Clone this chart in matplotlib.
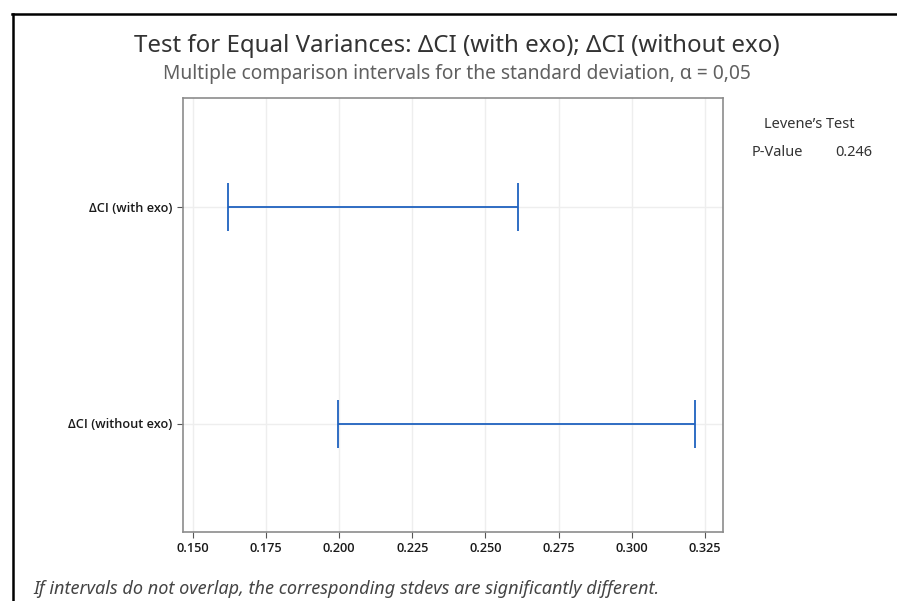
import matplotlib
matplotlib.use("Agg")
import matplotlib.pyplot as plt
from matplotlib.lines import Line2D

categories = ["ΔCI (with exo)", "ΔCI (without exo)"]
lower = [0.162, 0.1995]
upper = [0.261, 0.3215]
xticks = [0.150, 0.175, 0.200, 0.225, 0.250, 0.275, 0.300, 0.325]
p_value = 0.246

plt.rcParams['font.family'] = ['Noto Sans', 'DejaVu Sans']

fig = plt.figure(figsize=(8.97, 6.01), dpi=100)
ax = fig.add_axes([183/897, 69/601, (722.7-183)/897, (532-98)/601])

blue = '#1f62bf'
ypos = [1, 2]
for y, lo, hi in zip(ypos, lower, upper):
    mid = (lo + hi) / 2
    ax.errorbar([mid], [y], xerr=[[mid - lo], [hi - mid]], fmt='none',
                ecolor=blue, elinewidth=1.3, capsize=17.3, capthick=1.3)

ax.set_xlim(0.1466, 0.3311)
ax.set_ylim(2.5, 0.5)
ax.set_xticks(xticks)
ax.set_xticklabels([f"{t:.3f}" for t in xticks])
ax.set_yticks(ypos)
ax.set_yticklabels(categories)
ax.tick_params(axis='both', colors='#555555', labelcolor='#1a1a1a', length=4, width=0.8)
for lab in ax.get_xticklabels() + ax.get_yticklabels():
    lab.set_family(['Open Sans', 'DejaVu Sans'])
    lab.set_fontweight('semibold')
    lab.set_fontsize(9.2)
ax.grid(True, color='#eeeeee', linewidth=1.0)
ax.set_axisbelow(True)
for s in ax.spines.values():
    s.set_color('#8c8c8c')
    s.set_linewidth(1.2)

fig.text(457/897, 1 - 46/601, "Test for Equal Variances: ΔCI (with exo); ΔCI (without exo)",
         ha='center', va='center', fontsize=17.3, color='#333333')
fig.text(457/897, 1 - 74/601, "Multiple comparison intervals for the standard deviation, α = 0,05",
         ha='center', va='center', fontsize=13.8, color='#606060')
fig.text(809/897, 1 - 125/601, "Levene’s Test", ha='center', va='center', fontsize=10.5, color='#333333')
fig.text(752/897, 1 - 152/601, "P-Value", ha='left', va='center', fontsize=10.5, color='#333333')
fig.text(872/897, 1 - 152/601, f"{p_value:.3f}", ha='right', va='center', fontsize=10.5, color='#333333')
fig.text(33/897, 1 - 589/601, "If intervals do not overlap, the corresponding stdevs are significantly different.",
         ha='left', va='center', fontsize=13, style='italic', color='#444444')

fig.add_artist(Line2D([12/897, 1], [1 - 14/601, 1 - 14/601], color='black', linewidth=1.8, transform=fig.transFigure))
fig.add_artist(Line2D([13/897, 13/897], [1 - 14/601, 0], color='black', linewidth=1.8, transform=fig.transFigure))

fig.savefig("out.png", dpi=100, facecolor='white')
